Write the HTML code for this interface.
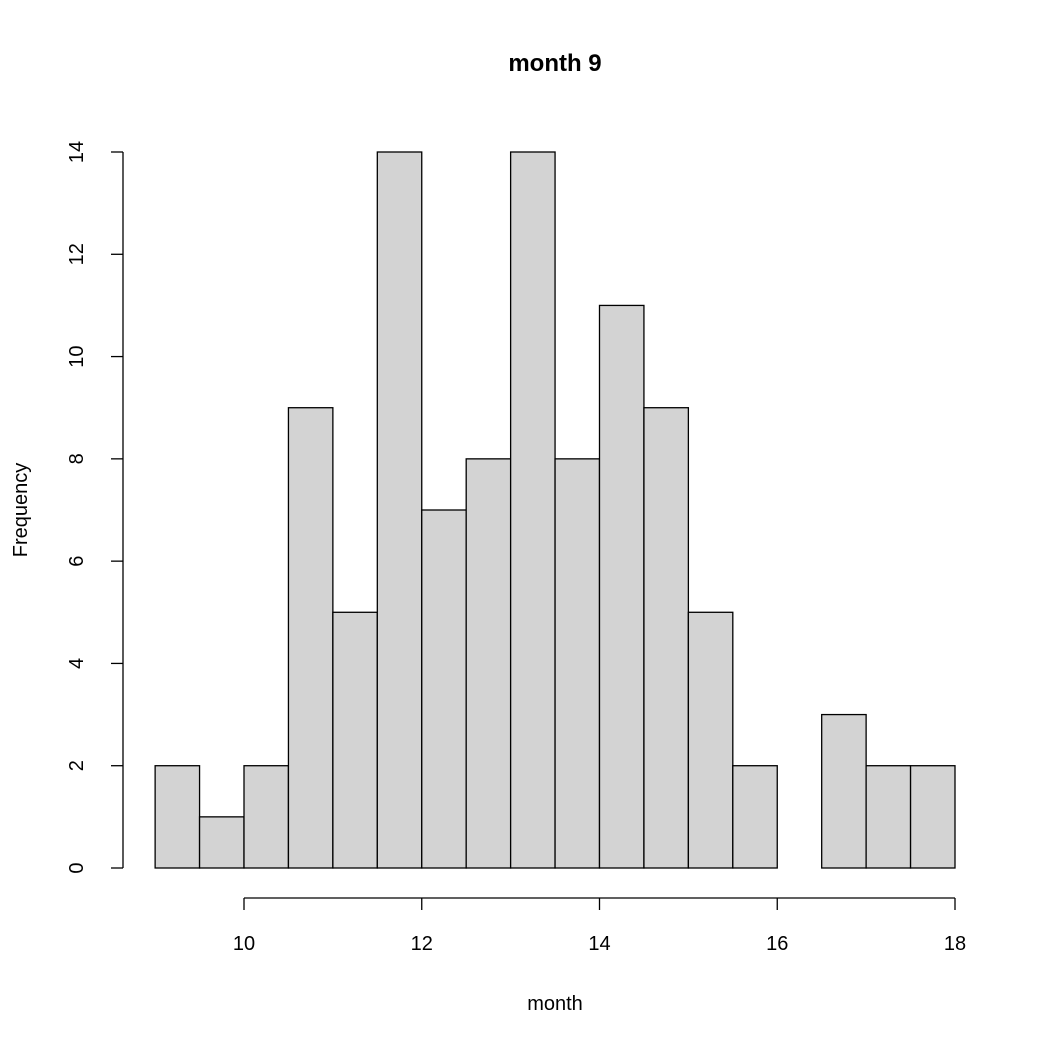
<!DOCTYPE html>
<html><head><meta charset="utf-8"><style>
html,body{margin:0;padding:0;background:#fff;}
svg{display:block;font-family:"Liberation Sans",Arial,sans-serif;}
</style></head><body>
<svg id="chart" width="1050" height="1050" viewBox="0 0 1050 1050">
<text x="555" y="71" text-anchor="middle" font-size="24" font-weight="bold">month 9</text>
<text x="555" y="1010" text-anchor="middle" font-size="20">month</text>
<text transform="translate(27,510) rotate(-90)" text-anchor="middle" font-size="20">Frequency</text>
<g id="bars"></g>
<g id="xaxis"></g>
<g id="yaxis"></g>
</svg>
<script>
const binStarts = [9,9.5,10,10.5,11,11.5,12,12.5,13,13.5,14,14.5,15,15.5,16,16.5,17,17.5];
const counts = [2,1,2,9,5,14,7,8,14,8,11,9,5,2,0,3,2,2];
const binWidth = 0.5;
const xTicks = [10,12,14,16,18];
const yTicks = [0,2,4,6,8,10,12,14];
const NS = "http://www.w3.org/2000/svg";
function xs(v){return 244 + (v-10)*(955-244)/8;}
function ys(v){return 868 - v*(868-152)/14;}
function mk(tag, attrs, parent){const e=document.createElementNS(NS,tag);for(const k in attrs)e.setAttribute(k,attrs[k]);parent.appendChild(e);return e;}
const bars=document.getElementById('bars');
binStarts.forEach((b,i)=>{
  const x0=xs(b), x1=xs(b+binWidth), y=ys(counts[i]);
  const r=mk('rect',{x:x0,y:y,width:x1-x0,height:ys(0)-y,fill:'#d3d3d3',stroke:'#000','stroke-width':1.3},bars);
  
  
});
const xa=document.getElementById('xaxis');
mk('line',{x1:xs(xTicks[0]),x2:xs(xTicks[xTicks.length-1]),y1:898,y2:898,stroke:'#000','stroke-width':1.3},xa);
xTicks.forEach(t=>{
  mk('line',{x1:xs(t),x2:xs(t),y1:898,y2:910,stroke:'#000','stroke-width':1.3},xa);
  const tx=mk('text',{x:xs(t),y:950,'text-anchor':'middle','font-size':20},xa);
  tx.textContent=t;
  
  
});
const ya=document.getElementById('yaxis');
mk('line',{x1:123,x2:123,y1:ys(yTicks[0]),y2:ys(yTicks[yTicks.length-1]),stroke:'#000','stroke-width':1.3},ya);
yTicks.forEach(t=>{
  mk('line',{x1:111,x2:123,y1:ys(t),y2:ys(t),stroke:'#000','stroke-width':1.3},ya);
  const tx=mk('text',{transform:'translate(83,'+ys(t)+') rotate(-90)','text-anchor':'middle','font-size':20},ya);
  tx.textContent=t;
  
  
});
</script>
</body></html>
